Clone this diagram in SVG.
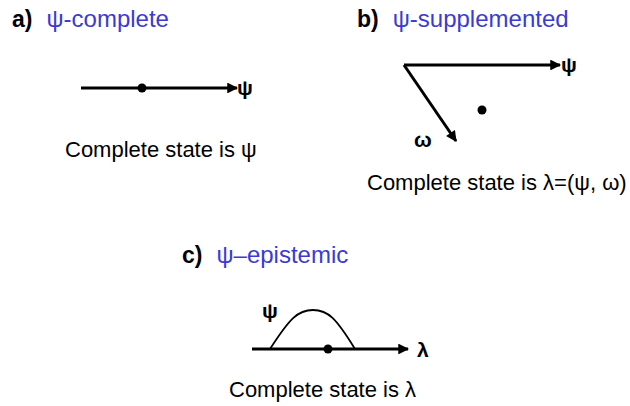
<svg xmlns="http://www.w3.org/2000/svg" width="630" height="406" viewBox="0 0 630 406">
<defs>
<style>
text{font-family:"Liberation Sans",Arial,sans-serif;fill:#000}
.lbl{font-weight:bold;font-size:23px}
.ttl{fill:#3a3ad6;font-size:24px}
.cap{font-size:22px}
.sym{font-size:21px;font-weight:bold}
.ax{stroke:#000;stroke-width:3;fill:none}
</style>
<marker id="ah" viewBox="0 0 10 10" refX="9" refY="5" markerWidth="4" markerHeight="3.6" orient="auto" markerUnits="strokeWidth">
<path d="M0,0L10,5L0,10z" fill="#000"/>
</marker>
</defs>
<rect width="630" height="406" fill="#fff"/>
<g id="panel-a">
<text x="12" y="27"><tspan class="lbl">a)</tspan><tspan class="ttl" dx="14">ψ-complete</tspan></text>
<text class="cap" x="65" y="157">Complete state is ψ</text>
<text class="sym" x="237" y="95">ψ</text>
<circle cx="142" cy="88" r="4.5"/>
</g>
<g id="panel-b">
<text x="357" y="27"><tspan class="lbl">b)</tspan><tspan class="ttl" dx="14">ψ-supplemented</tspan></text>
<text class="cap" x="367" y="190">Complete state is λ=(ψ, ω)</text>
<text class="sym" x="561" y="72">ψ</text>
<text class="sym" x="414" y="147">ω</text>
<circle cx="482" cy="110" r="4.5"/>
</g>
<g id="panel-c">
<text x="182" y="263"><tspan class="lbl">c)</tspan><tspan class="ttl" dx="14">ψ–epistemic</tspan></text>
<text class="cap" x="229" y="397">Complete state is λ</text>
<text class="sym" x="262" y="318">ψ</text>
<text class="sym" x="417" y="357">λ</text>
<path d="M270,349 C290,318 298,310 313,310 C328,310 336,318 355,349" fill="none" stroke="#000" stroke-width="1.8"/>
<circle cx="328" cy="349" r="4.5"/>
</g>
<g id="connectors">
<line class="ax" x1="81" y1="88" x2="237" y2="88" marker-end="url(#ah)"/>
<line class="ax" x1="404" y1="65" x2="560" y2="65" marker-end="url(#ah)"/>
<line class="ax" x1="404" y1="65" x2="456" y2="141" marker-end="url(#ah)"/>
<line class="ax" x1="252" y1="349" x2="408" y2="349" marker-end="url(#ah)"/>
</g>
</svg>
